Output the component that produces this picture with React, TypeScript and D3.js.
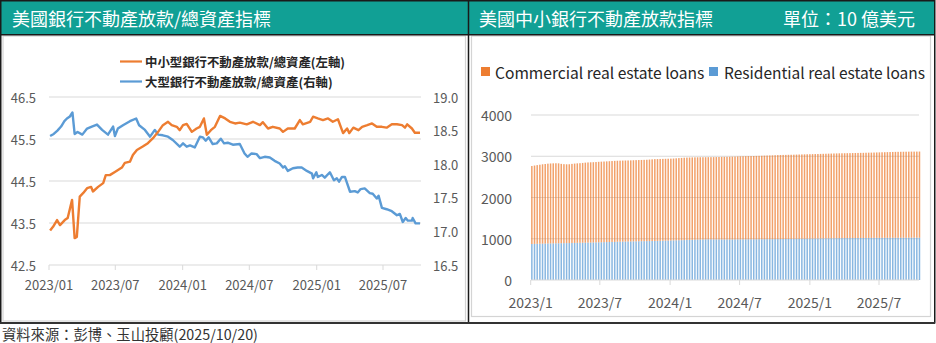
import React from "react";
import * as d3 from "d3";

// ---------- Data ----------
const leftTitle = "美國銀行不動產放款/總資產指標";
const rightTitle = "美國中小銀行不動產放款指標";
const rightUnit = "單位：10 億美元";
const footer = "資料來源：彭博、玉山投顧(2025/10/20)";
const smallBankLabel = "中小型銀行不動產放款/總資產(左軸)";
const largeBankLabel = "大型銀行不動產放款/總資產(右軸)";
const commercialLabel = "Commercial real estate loans";
const residentialLabel = "Residential real estate loans";

const leftAxisTicks = [42.5, 43.5, 44.5, 45.5, 46.5];
const rightAxisTicks = [16.5, 17.0, 17.5, 18.0, 18.5, 19.0];
const leftXTickDates = ["2023-01-01", "2023-07-01", "2024-01-01", "2024-07-01", "2025-01-01", "2025-07-01"];
const leftXTickLabels = ["2023/01", "2023/07", "2024/01", "2024/07", "2025/01", "2025/07"];
const barYTicks = [0, 1000, 2000, 3000, 4000];
const barXTickDates = ["2023-01-01", "2023-07-01", "2024-01-01", "2024-07-01", "2025-01-01", "2025-07-01"];
const barXTickLabels = ["2023/1", "2023/7", "2024/1", "2024/7", "2025/1", "2025/7"];

// small/medium banks RE loans / total assets (left axis, %)
const smallBankDates = [
  "2023-01-04","2023-01-12","2023-01-23","2023-01-31","2023-02-13","2023-02-21","2023-03-05","2023-03-12",
  "2023-03-18","2023-03-26","2023-04-04","2023-04-15","2023-04-26","2023-05-01","2023-05-15","2023-05-29",
  "2023-06-05","2023-06-16","2023-07-01","2023-07-19","2023-07-27","2023-08-10","2023-08-18","2023-08-29",
  "2023-09-14","2023-09-28","2023-10-12","2023-10-26","2023-11-08","2023-11-22","2023-12-02","2023-12-16",
  "2023-12-24","2024-01-02","2024-01-12","2024-01-26","2024-02-08","2024-02-17","2024-02-28","2024-03-07",
  "2024-03-18","2024-03-29","2024-04-12","2024-04-26","2024-05-09","2024-05-23","2024-06-05","2024-06-24",
  "2024-07-11","2024-07-30","2024-08-07","2024-08-21","2024-09-03","2024-09-22","2024-10-01","2024-10-14",
  "2024-11-02","2024-11-16","2024-11-24","2024-12-14","2024-12-22","2025-01-04","2025-01-18","2025-02-01",
  "2025-02-14","2025-02-28","2025-03-14","2025-03-25","2025-03-31","2025-04-11","2025-04-25","2025-05-05",
  "2025-05-19","2025-06-01","2025-06-14","2025-06-28","2025-07-11","2025-07-25","2025-08-08","2025-08-22",
  "2025-08-30","2025-09-05","2025-09-18","2025-09-26","2025-10-10"
];
const smallBankValues = [
  43.32, 43.41, 43.57, 43.45, 43.57, 43.62, 44.05, 43.14,
  43.17, 44.13, 44.21, 44.33, 44.36, 44.25, 44.36, 44.45,
  44.64, 44.64, 44.72, 44.82, 44.93, 44.96, 45.12, 45.24,
  45.32, 45.40, 45.52, 45.67, 45.83, 45.91, 45.83, 45.79,
  45.71, 45.83, 45.86, 45.67, 45.75, 45.79, 45.99, 45.60,
  45.71, 45.79, 46.05, 45.99, 45.91, 45.87, 45.89, 45.85,
  45.91, 45.83, 45.90, 45.75, 45.79, 45.75, 45.67, 45.75,
  45.75, 45.95, 45.85, 45.91, 46.03, 45.99, 45.95, 45.99,
  45.91, 45.97, 45.64, 45.75, 45.64, 45.77, 45.71, 45.79,
  45.83, 45.87, 45.79, 45.79, 45.77, 45.85, 45.85, 45.83,
  45.77, 45.85, 45.75, 45.65, 45.65
];

// large banks RE loans / total assets (right axis, %)
const largeBankDates = [
  "2023-01-04","2023-01-14","2023-01-24","2023-02-03","2023-02-12","2023-02-19","2023-02-27","2023-03-06",
  "2023-03-12","2023-03-20","2023-04-02","2023-04-15","2023-04-28","2023-05-12","2023-05-26","2023-06-11",
  "2023-06-25","2023-06-30","2023-07-08","2023-07-22","2023-08-10","2023-08-27","2023-09-04","2023-09-20",
  "2023-10-04","2023-10-17","2023-10-26","2023-11-08","2023-11-22","2023-12-05","2023-12-24","2024-01-02",
  "2024-01-12","2024-01-21","2024-02-03","2024-02-17","2024-02-25","2024-03-04","2024-03-12","2024-03-23",
  "2024-04-03","2024-04-14","2024-04-23","2024-05-03","2024-05-17","2024-06-05","2024-06-18","2024-06-26",
  "2024-07-07","2024-07-21","2024-07-30","2024-08-12","2024-08-26","2024-09-08","2024-09-22","2024-10-01",
  "2024-10-06","2024-10-14","2024-10-28","2024-11-10","2024-11-21","2024-12-05","2024-12-19","2024-12-22",
  "2024-12-31","2025-01-04","2025-01-15","2025-01-23","2025-02-06","2025-02-17","2025-02-25","2025-03-03",
  "2025-03-11","2025-03-19","2025-04-02","2025-04-15","2025-04-23","2025-05-01","2025-05-12","2025-05-26",
  "2025-06-03","2025-06-14","2025-06-19","2025-06-28","2025-07-11","2025-07-25","2025-08-08","2025-08-16",
  "2025-08-24","2025-09-01","2025-09-07","2025-09-18","2025-09-20","2025-09-28","2025-10-10"
];
const largeBankValues = [
  18.42, 18.45, 18.50, 18.56, 18.64, 18.68, 18.71, 18.77,
  18.45, 18.48, 18.44, 18.53, 18.56, 18.59, 18.51, 18.44,
  18.56, 18.42, 18.53, 18.58, 18.64, 18.68, 18.58, 18.51,
  18.41, 18.51, 18.44, 18.43, 18.41, 18.36, 18.26, 18.31,
  18.26, 18.28, 18.25, 18.41, 18.40, 18.35, 18.40, 18.30,
  18.31, 18.38, 18.31, 18.32, 18.29, 18.30, 18.16, 18.11,
  18.16, 18.15, 18.09, 18.11, 18.10, 18.05, 18.01, 17.95,
  17.97, 17.90, 17.94, 17.95, 17.95, 17.90, 17.86, 17.79,
  17.88, 17.81, 17.84, 17.80, 17.88, 17.76, 17.79, 17.74,
  17.81, 17.81, 17.59, 17.60, 17.58, 17.63, 17.64, 17.57,
  17.56, 17.49, 17.53, 17.35, 17.33, 17.30, 17.24, 17.26,
  17.14, 17.20, 17.16, 17.16, 17.20, 17.12, 17.12
];

// small banks real estate loans, weekly from 2023-01-04 (USD 10 bn)
const firstBarWeek = "2023-01-04";
const commercialLoans = [
  1891,1899,1907,1915,1923,1928,1935,1938,1940,1941,1938,1923,1915,1910,1910,1917,
  1923,1927,1930,1934,1940,1943,1945,1946,1948,1951,1954,1955,1957,1959,1961,1963,
  1963,1963,1964,1965,1964,1965,1966,1968,1968,1969,1970,1972,1976,1980,1984,1984,
  1984,1984,1984,1984,1984,1985,1988,1991,1994,1997,1998,1998,1998,1998,1997,1996,
  1994,1993,1992,1993,1995,1996,1999,2001,2003,2004,2006,2007,2009,2011,2014,2015,
  2017,2018,2019,2019,2021,2022,2024,2026,2029,2030,2032,2034,2037,2038,2039,2039,
  2040,2040,2041,2042,2043,2044,2045,2046,2047,2048,2049,2049,2050,2051,2052,2053,
  2054,2055,2056,2057,2057,2057,2059,2059,2061,2061,2062,2063,2064,2065,2067,2067,
  2069,2070,2072,2074,2075,2077,2079,2080,2082,2083,2083,2084,2085,2085,2086,2086,
  2087,2088
];
const residentialLoans = [
  873,876,878,880,882,884,885,887,888,889,890,892,893,895,896,898,
  899,901,902,904,905,907,908,910,912,914,915,917,919,921,923,925,
  928,930,931,932,934,935,937,938,940,941,942,943,944,945,946,948,
  950,952,954,956,958,960,962,964,966,968,970,972,974,976,978,980,
  982,984,986,985,984,984,983,983,982,982,982,983,983,984,984,985,
  985,986,986,987,987,988,988,989,989,990,990,991,991,992,993,994,
  995,996,997,998,999,1000,1001,1002,1003,1004,1005,1006,1007,1008,1009,1010,
  1011,1012,1013,1014,1015,1016,1016,1017,1017,1018,1018,1019,1019,1020,1020,1021,
  1021,1022,1022,1022,1023,1023,1023,1024,1024,1024,1025,1025,1025,1026,1026,1026,
  1026,1026
];

// ---------- Styles ----------
const TEAL = "#11a095";
const ORANGE = "#ED7D31";
const BLUE = "#5B9BD5";
const GRID = "#d9d9d9";
const AXIS_TEXT = "#595959";
const FONT = "'Noto Sans CJK TC', 'Noto Sans', sans-serif";

const parse = d3.timeParse("%Y-%m-%d");

export default function App() {
  // left chart scales
  const xL = d3.scaleTime().domain([parse("2023-01-01")!, parse("2025-07-01")!]).range([49, 383]);
  const yL = d3.scaleLinear().domain([42.5, 46.5]).range([265, 97]);
  const yR = d3.scaleLinear().domain([16.5, 19.0]).range([265, 97]);

  const smallData = smallBankDates.map((d, i) => ({ date: parse(d)!, v: smallBankValues[i] }));
  const largeData = largeBankDates.map((d, i) => ({ date: parse(d)!, v: largeBankValues[i] }));

  const lineSmall = d3.line<{ date: Date; v: number }>().x((d) => xL(d.date)).y((d) => yL(d.v));
  const lineLarge = d3.line<{ date: Date; v: number }>().x((d) => xL(d.date)).y((d) => yR(d.v));

  // right chart scales
  const xB = d3.scaleTime().domain([parse("2023-01-01")!, parse("2025-07-01")!]).range([530.7, 879]);
  const yB = d3.scaleLinear().domain([0, 4000]).range([280, 115]);
  const start = parse(firstBarWeek)!;
  const bars = commercialLoans.map((c, i) => ({
    date: d3.timeDay.offset(start, 7 * i),
    res: residentialLoans[i],
    com: c,
  }));
  const barW = 1.5;

  return (
    <svg
      width={936}
      height={343}
      style={{ position: "absolute", left: 0, top: 0, background: "#fff" }}
      fontFamily={FONT}
    >
      {/* headers */}
      <rect x={1} y={1} width={467.5} height={33.5} fill={TEAL} />
      <rect x={469} y={1} width={465.5} height={33.5} fill={TEAL} />
      <text x={12} y={18} fill="#fff" fontSize={18} dominantBaseline="central">{leftTitle}</text>
      <text x={479} y={18} fill="#fff" fontSize={18} dominantBaseline="central">{rightTitle}</text>
      <text x={915} y={18} fill="#fff" fontSize={18} textAnchor="end" dominantBaseline="central">{rightUnit}</text>

      {/* inner light borders */}
      <rect x={3} y={36} width={462.5} height={285} fill="none" stroke="#d4d4d4" strokeWidth={1.2} />
      <rect x={471.5} y={36} width={459} height={280.5} fill="none" stroke="#d4d4d4" strokeWidth={1.2} />

      {/* frame */}
      <rect x={0.75} y={0.75} width={934} height={322} fill="none" stroke="#1a1a1a" strokeWidth={1.5} />
      <line x1={0} x2={935} y1={34.75} y2={34.75} stroke="#1a1a1a" strokeWidth={1.5} />
      <line x1={468.5} x2={468.5} y1={0} y2={323} stroke="#1a1a1a" strokeWidth={1.5} />
      <line x1={0} x2={935} y1={323} y2={323} stroke="#333" strokeWidth={2} />

      {/* ---------- left chart ---------- */}
      <g>
        {leftAxisTicks.map((t) => (
          <line key={"g" + t} x1={49} x2={421} y1={yL(t)} y2={yL(t)} stroke={GRID} strokeWidth={1} />
        ))}
        {leftXTickDates.map((d) => (
          <line key={"t" + d} x1={xL(parse(d)!)} x2={xL(parse(d)!)} y1={265} y2={270} stroke={GRID} />
        ))}
        {leftAxisTicks.map((t) => (
          <text key={"l" + t} x={36} y={yL(t)} fontSize={13} fill={AXIS_TEXT} textAnchor="end" dominantBaseline="central">
            {t.toFixed(1)}
          </text>
        ))}
        {rightAxisTicks.map((t) => (
          <text key={"r" + t} x={433} y={yR(t)} fontSize={13} fill={AXIS_TEXT} dominantBaseline="central">
            {t.toFixed(1)}
          </text>
        ))}
        {leftXTickDates.map((d, i) => (
          <text key={"x" + d} x={xL(parse(d)!)} y={284} fontSize={13} fill={AXIS_TEXT} textAnchor="middle" dominantBaseline="central">
            {leftXTickLabels[i]}
          </text>
        ))}
        <path d={lineLarge(largeData)!} fill="none" stroke={BLUE} strokeWidth={2.4} strokeLinejoin="round" />
        <path d={lineSmall(smallData)!} fill="none" stroke={ORANGE} strokeWidth={2.4} strokeLinejoin="round" />

        {/* legend */}
        <line x1={120} x2={142} y1={61.5} y2={61.5} stroke={ORANGE} strokeWidth={2.2} />
        <text x={145} y={61.5} fontSize={12.4} fill="#262626" fontWeight={600} dominantBaseline="central">{smallBankLabel}</text>
        <line x1={120} x2={142} y1={81.5} y2={81.5} stroke={BLUE} strokeWidth={2.2} />
        <text x={145} y={81.5} fontSize={12.4} fill="#262626" fontWeight={600} dominantBaseline="central">{largeBankLabel}</text>
      </g>

      {/* ---------- right chart ---------- */}
      <g>
        {barYTicks.filter((t) => t > 0).map((t) => (
          <line key={"bg" + t} x1={531} x2={919} y1={yB(t)} y2={yB(t)} stroke={GRID} strokeWidth={1} />
        ))}
        {bars.map((b, i) => (
          <g key={"b" + i}>
            <rect x={xB(b.date) - barW / 2} y={yB(b.res)} width={barW} height={yB(0) - yB(b.res)} fill={BLUE} opacity={0.72} />
            <rect x={xB(b.date) - barW / 2} y={yB(b.res + b.com)} width={barW} height={yB(b.res) - yB(b.res + b.com)} fill={ORANGE} opacity={0.72} />
          </g>
        ))}
        <line x1={531} x2={919} y1={280} y2={280} stroke={GRID} strokeWidth={1} />
        {barXTickDates.map((d) => (
          <line key={"bt" + d} x1={xB(parse(d)!)} x2={xB(parse(d)!)} y1={280} y2={285} stroke={GRID} />
        ))}
        {barYTicks.map((t) => (
          <text key={"by" + t} x={512} y={yB(t)} fontSize={14} fill={AXIS_TEXT} textAnchor="end" dominantBaseline="central">
            {t}
          </text>
        ))}
        {barXTickDates.map((d, i) => (
          <text key={"bx" + d} x={xB(parse(d)!)} y={301.5} fontSize={14} fill={AXIS_TEXT} textAnchor="middle" dominantBaseline="central">
            {barXTickLabels[i]}
          </text>
        ))}
        {/* legend */}
        <rect x={481} y={67} width={9} height={9} fill={ORANGE} />
        <text x={495} y={72} fontSize={15.6} fill="#262626" dominantBaseline="central">{commercialLabel}</text>
        <rect x={709} y={67} width={9} height={9} fill={BLUE} />
        <text x={724} y={72} fontSize={15.5} fill="#262626" dominantBaseline="central">{residentialLabel}</text>
      </g>

      {/* footer */}
      <text x={2} y={333.5} fontSize={14.3} fill="#333" dominantBaseline="central">{footer}</text>
    </svg>
  );
}
